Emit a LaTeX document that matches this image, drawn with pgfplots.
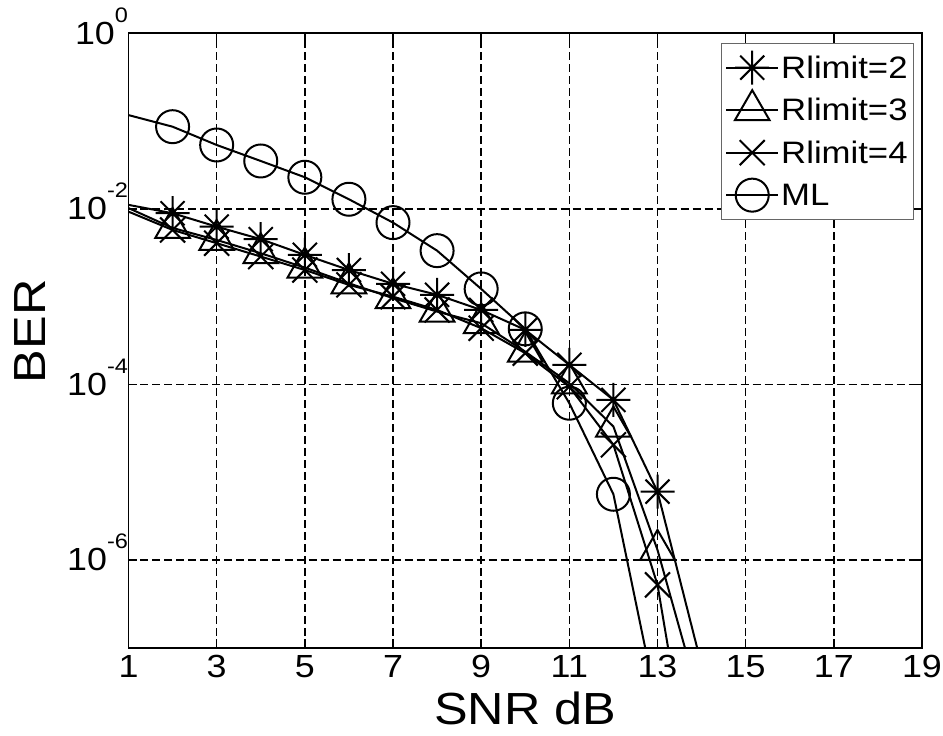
\documentclass[border=0pt]{standalone}
\usepackage{fontspec}
\setmainfont{Liberation Sans}[FakeStretch=1.12]
\usepackage{pgfplots}
\pgfplotsset{compat=1.18}
% Matlab-like marks
\pgfdeclareplotmark{mlstar}{%
  \pgfpathmoveto{\pgfqpoint{-\pgfplotmarksize}{0pt}}\pgfpathlineto{\pgfqpoint{\pgfplotmarksize}{0pt}}%
  \pgfpathmoveto{\pgfqpoint{0pt}{-\pgfplotmarksize}}\pgfpathlineto{\pgfqpoint{0pt}{\pgfplotmarksize}}%
  \pgfpathmoveto{\pgfqpoint{-.7071\pgfplotmarksize}{-.7071\pgfplotmarksize}}\pgfpathlineto{\pgfqpoint{.7071\pgfplotmarksize}{.7071\pgfplotmarksize}}%
  \pgfpathmoveto{\pgfqpoint{-.7071\pgfplotmarksize}{.7071\pgfplotmarksize}}\pgfpathlineto{\pgfqpoint{.7071\pgfplotmarksize}{-.7071\pgfplotmarksize}}%
  \pgfusepathqstroke}
\pgfdeclareplotmark{mlx}{%
  \pgfpathmoveto{\pgfqpoint{-\pgfplotmarksize}{-\pgfplotmarksize}}\pgfpathlineto{\pgfqpoint{\pgfplotmarksize}{\pgfplotmarksize}}%
  \pgfpathmoveto{\pgfqpoint{-\pgfplotmarksize}{\pgfplotmarksize}}\pgfpathlineto{\pgfqpoint{\pgfplotmarksize}{-\pgfplotmarksize}}%
  \pgfusepathqstroke}
\newcommand\ex[1]{\smash{\raisebox{22pt}{\fontsize{21}{21}\selectfont #1}}}
\begin{document}
\begin{tikzpicture}
\begin{axis}[
  scale only axis, width=793.5pt, height=614.4pt,
  xmin=1, xmax=19, ymode=log, ymin=1e-7, ymax=1,
  xtick={1,3,...,19}, xticklabels={1,3,5,7,9,11,13,15,17,19},
  ytick={1,1e-2,1e-4,1e-6}, yticklabels={10\ex{0},10\ex{-2},10\ex{-4},10\ex{-6}},
  yminorticks=false,
  tick align=inside, major tick length=9pt,
  tick style={line width=1.6pt, black},
  axis line style={line width=1.8pt},
  grid=major, major grid style={line width=1.6pt, dash pattern=on 8pt off 4pt, black},
  xticklabel style={font=\fontsize{32}{32}\selectfont, yshift=-4pt},
  yticklabel style={font=\fontsize{32}{32}\selectfont, xshift=3pt},
  xlabel={SNR dB}, ylabel={BER},
  every axis x label/.style={at={(axis description cs:0.5,-0.099)}, anchor=center, inner sep=0pt},
  every axis y label/.style={at={(axis description cs:-0.1241,0.515)}, rotate=90, anchor=center, inner sep=0pt},
  label style={font=\fontsize{45}{45}\selectfont},
  every axis plot/.append style={line width=2pt, mark phase=2, mark repeat=1},
  legend image code/.code={\draw[mark repeat=2,mark phase=2] plot coordinates {(0pt,0pt) (26pt,0pt) (52pt,0pt)};},
  legend cell align=left,
  legend style={at={(1,1)}, anchor=north east, xshift=-8pt, yshift=-9.7pt,
    draw=black!60, line width=0.8pt, fill=white, inner xsep=4pt, inner ysep=3pt,
    row sep=0pt, font=\fontsize{31}{31}\selectfont,
    nodes={inner sep=2pt, minimum height=42.5pt}},
]
\addplot[black, mark=mlstar, mark size=17pt] coordinates {
(1,0.0111) (2,0.00891) (3,0.00627) (4,0.00451) (5,0.00299) (6,0.00201) (7,0.0014)
(8,0.00105) (9,7.05e-4) (10,4.18e-4) (11,1.67e-4) (12,6.66e-5) (13,6.0e-6) (14,6.3e-8)};
\addlegendentry{Rlimit=2}
\addplot[black, mark=triangle, mark size=20pt] coordinates {
(1,0.0102) (2,0.00606) (3,0.00442) (4,0.00312) (5,0.00214) (6,0.00142) (7,9.6e-4)
(8,6.75e-4) (9,4.98e-4) (10,2.36e-4) (11,1.03e-4) (12,3.31e-5) (13,1.3e-6) (14,2.1e-8)};
\addlegendentry{Rlimit=3}
\addplot[black, mark=mlx, mark size=12.5pt] coordinates {
(1,0.00929) (2,0.00575) (3,0.00406) (4,0.00286) (5,0.00201) (6,0.00136) (7,0.001)
(8,7.05e-4) (9,4.37e-4) (10,2.27e-4) (11,9.4e-5) (12,2.05e-5) (13,5.2e-7) (14,5.4e-10)};
\addlegendentry{Rlimit=4}
\addplot[black, mark=o, mark size=16.5pt] coordinates {
(1,0.117) (2,0.0863) (3,0.0534) (4,0.0351) (5,0.0229) (6,0.01286) (7,0.00697)
(8,0.00334) (9,0.001224) (10,4.29e-4) (11,6.1e-5) (12,5.6e-6) (13,2.1e-8)};
\addlegendentry{ML}
\coordinate (sw) at (rel axis cs:0,0);
\coordinate (ne) at (rel axis cs:1,1);
\end{axis}
\pgfresetboundingbox
\path[use as bounding box] ([shift={(-128.5pt,-88.3pt)}]sw) rectangle ([shift={(21pt,33.3pt)}]ne);
\end{tikzpicture}
\end{document}
